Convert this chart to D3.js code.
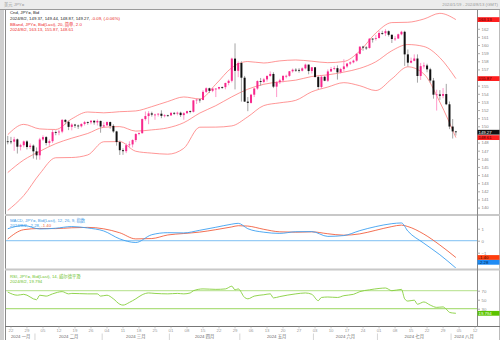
<!DOCTYPE html>
<html><head><meta charset="utf-8">
<script src="https://cdn.jsdelivr.net/npm/d3@7"></script>
<style>
html,body{margin:0;padding:0;background:#fff;}
svg{display:block;font-family:"Liberation Sans",Arial,"Noto Sans CJK SC",sans-serif;}
</style></head><body>
<svg id="c" width="500" height="340"></svg>
<script>
// USD/JPY daily candles, 2024-01-19 .. 2024-08-02 (one value per trading day)
const open = [148.15,148.14,148.11,148.39,147.49,147.67,148.14,147.45,147.62,146.92,
146.43,148.38,148.67,147.95,148.17,149.29,149.28,149.35,150.79,150.55,
149.93,150.21,150.09,150.00,150.29,150.51,150.49,150.69,150.48,150.66,
149.98,150.12,150.52,150.05,149.37,148.06,147.06,146.94,147.67,147.77,
148.31,149.05,149.15,150.89,151.26,151.59,151.44,151.45,151.55,151.29,
151.35,151.34,151.65,151.56,151.67,151.38,151.61,151.86,151.79,153.19,
153.29,153.24,154.24,154.68,154.37,154.64,154.64,154.83,154.82,155.33,
155.60,158.33,156.83,157.79,155.98,153.04,152.88,153.89,154.65,155.57,
155.46,155.77,156.20,156.44,154.88,155.43,155.65,156.20,156.21,156.77,
156.96,156.94,156.84,157.13,157.59,156.80,157.26,156.06,154.84,156.09,
155.61,156.75,157.05,157.15,156.64,157.04,157.37,157.72,157.87,158.08,
158.92,159.80,159.69,159.64,160.78,160.76,160.86,161.48,161.45,161.70,
161.26,160.74,160.80,161.32,161.63,158.85,157.83,158.06,158.34,156.19,
157.40,157.48,157.01,155.63,153.89,153.93,153.75,153.97,152.71,149.97,
149.37];
const high = [148.81,148.70,148.70,148.50,147.85,148.25,148.29,147.90,147.77,147.40,
148.58,148.89,148.80,148.39,149.56,149.48,149.58,150.89,150.88,150.69,
150.37,150.30,150.22,150.37,150.66,150.59,150.73,150.70,150.84,150.70,
150.50,150.60,150.58,150.25,149.45,148.25,147.30,147.90,148.15,148.40,
149.16,149.25,150.96,151.82,151.86,151.80,151.55,151.60,151.97,151.48,
151.42,151.77,151.76,151.80,151.80,151.75,151.92,151.95,153.24,153.32,
153.40,154.45,154.79,154.75,154.72,154.70,154.86,154.90,155.37,155.75,
158.44,160.20,157.99,157.99,156.20,153.60,154.00,154.75,155.65,155.95,
155.95,156.25,156.75,156.65,155.55,155.85,156.30,156.35,156.80,157.10,
157.15,157.15,157.25,157.71,157.60,157.30,157.30,156.20,156.30,156.20,
157.00,157.30,157.40,157.50,157.20,158.25,157.80,158.00,158.20,159.00,
159.85,159.90,159.85,160.85,160.85,161.25,161.74,161.75,161.95,161.80,
161.30,161.10,161.40,161.75,161.76,159.45,158.45,158.85,158.85,157.80,
157.85,157.70,157.20,155.95,154.50,154.45,154.70,155.22,153.05,150.90,
149.44];
const low = [147.78,147.80,146.98,146.65,147.03,147.40,147.15,147.20,146.03,145.90,
145.89,148.20,147.65,147.60,147.95,148.90,148.90,149.15,150.25,149.53,
149.50,149.80,149.68,149.85,150.10,150.20,150.25,150.20,150.10,149.21,
149.80,150.05,149.70,149.20,147.62,146.48,146.49,146.70,147.30,147.40,
148.05,148.90,149.10,150.70,150.26,151.20,150.80,151.20,151.00,151.10,
151.20,151.30,151.40,151.35,151.15,150.81,151.55,151.60,151.70,152.75,
152.90,153.20,154.10,154.10,154.20,153.60,154.50,154.60,154.55,155.05,
155.40,154.54,156.05,153.04,152.99,151.86,152.80,153.60,154.50,155.00,
155.30,155.50,156.10,154.70,153.60,155.20,155.40,155.90,156.10,156.60,
156.70,156.60,156.75,157.00,156.40,156.50,156.00,154.55,154.60,155.55,
155.45,156.70,156.90,155.75,156.50,156.75,157.20,157.55,157.75,157.95,
158.85,159.30,159.40,159.55,160.30,160.55,160.80,161.25,161.10,161.05,
160.25,160.50,160.75,161.20,157.44,157.35,157.75,158.00,155.37,155.70,
157.10,156.65,155.35,153.40,151.94,153.25,153.45,152.60,149.65,148.50,
148.87];
const close = [148.14,148.11,148.39,147.49,147.67,148.14,147.45,147.62,146.92,146.43,
148.38,148.67,147.95,148.17,149.29,149.28,149.35,150.79,150.55,149.93,
150.21,150.09,150.00,150.29,150.51,150.49,150.69,150.48,150.66,149.98,
150.12,150.52,150.05,149.37,148.06,147.06,146.94,147.67,147.77,148.31,
149.05,149.15,150.89,151.26,151.59,151.44,151.45,151.55,151.29,151.35,
151.34,151.65,151.56,151.67,151.38,151.61,151.86,151.79,153.19,153.29,
153.24,154.24,154.68,154.37,154.64,154.64,154.83,154.82,155.33,155.60,
158.33,156.83,157.79,155.98,153.04,152.88,153.89,154.65,155.57,155.46,
155.77,156.20,156.44,154.88,155.43,155.65,156.20,156.21,156.77,156.96,
156.94,156.84,157.13,157.59,156.80,157.26,156.06,154.84,156.09,155.61,
156.75,157.05,157.15,156.64,157.04,157.37,157.72,157.87,158.08,158.92,
159.80,159.69,159.64,160.78,160.76,160.86,161.48,161.45,161.70,161.26,
160.74,160.80,161.32,161.63,158.85,157.83,158.06,158.34,156.19,157.40,
157.48,157.01,155.63,153.89,153.93,153.75,153.97,152.71,149.97,149.37,
149.27];

// Bollinger band (20, 2.0) readings, by trading-day number
const bbAt    = [0,5,10,15,20,25,30,35,40,45,50,55,60,65,70,75,80,85,90,95,100,105,110,115,120,125,130,135,140];
const bbUpper = [148.97,150.24,149.68,149.61,150.92,151.76,151.66,151.80,151.89,152.42,153.05,153.61,153.37,155.18,157.21,157.97,157.79,158.05,158.16,158.01,157.83,157.97,159.27,161.48,162.76,162.80,163.20,163.90,163.13];
const bbMid   = [144.31,145.86,146.92,147.87,148.54,149.12,149.88,149.96,149.41,149.56,149.81,150.45,151.63,152.54,153.63,154.57,155.17,155.47,155.68,156.13,156.33,156.67,157.13,157.94,159.30,160.06,159.82,158.44,155.87];
const bbLower = [139.65,141.48,144.16,146.13,146.16,146.48,148.10,148.12,146.93,146.70,146.57,147.29,149.89,149.90,150.05,151.17,152.55,152.89,153.20,154.25,154.83,155.37,154.99,154.40,155.84,157.32,156.44,152.98,148.61];

// MACD (12, 26, 9) readings
const macdAt     = [0,5,10,15,20,25,30,35,40,45,50,55,60,65,70,72,75,80,85,90,95,100,105,110,115,120,123,125,130,135,140];
const macdLine   = [1.00,1.27,0.98,1.04,1.18,1.06,0.81,0.15,-0.15,0.50,0.67,0.65,0.87,1.12,1.38,1.45,1.00,0.71,0.61,0.75,0.76,0.36,0.43,0.84,1.18,1.42,1.48,0.80,-0.21,-1.17,-2.28];
const macdSignal = [0.15,0.92,1.02,1.01,1.08,1.11,0.99,0.66,0.15,0.18,0.48,0.60,0.72,0.92,1.15,1.25,1.22,0.95,0.74,0.71,0.74,0.58,0.46,0.57,0.87,1.18,1.30,1.18,0.55,-0.36,-1.40];

// RSI (14, Wilder) readings
const rsiAt  = [0,3,5,9,10,12,14,17,19,20,25,28,29,31,33,35,36,38,40,42,44,46,50,53,55,57,58,61,65,68,70,71,72,74,75,77,80,82,83,85,90,93,95,97,98,100,103,105,108,110,113,116,118,120,123,124,125,127,128,130,132,134,136,137,138,139,140];
const rsiVal = [67,60,62,50,60,58,63,68,63,64,63,63,58,60,52,40,38,44,52,61,65,64,63,64,63,65,70,74,73,74,80,72,74,55,52,58,61,63,54,57,63,65,62,48,55,56,55,59,62,68,72,75,76,70,73,52,47,49,40,45,38,33,34,29,22,20.5,19.794];

const priceTicks = d3.range(140, 164, 1);
const macdTicks = [1, 0, -1];
const rsiTicks = [70, 50, 30];
const monthNames = ["一月","二月","三月","四月","五月","六月","七月","八月"];

// ---- layout ----
const W = 500, H = 340, L = 6, R = 477;
const PM = [10, 214], PD = [216, 268], PR = [271, 326];

const days = d3.timeDay.range(new Date(2024,0,19), new Date(2024,7,14))
  .filter(d => d.getDay() !== 0 && d.getDay() !== 6);
const idxOf = d => days.findIndex(e => +e === +d);

const x = d3.scaleLinear().domain([-0.55, 146.6]).range([L, R]);
const yP = d3.scaleLinear().domain([139.21, 164.31]).range([PM[1], PM[0]]);
const yD = d3.scaleLinear().domain([-2.275, 2.06]).range([PD[1], PD[0]]);
const yR = d3.scaleLinear().domain([-8.4, 113.8]).range([PR[1], PR[0]]);

const svg = d3.select("#c");
const FS = 4.3;

svg.append("rect").attr("width", W).attr("height", H).attr("fill", "#fff");
// top bar
svg.append("rect").attr("width", W).attr("height", 9).attr("fill", "#ececec");
svg.append("line").attr("x1", 0).attr("x2", W).attr("y1", 9.5).attr("y2", 9.5).attr("stroke", "#9a9a9a");
svg.append("text").attr("x", 4).attr("y", 6.3).attr("font-size", FS).attr("fill", "#9a9a9a").text("美元 JPY=");
svg.append("text").attr("x", 498).attr("y", 6.3).attr("font-size", FS).attr("fill", "#9a9a9a")
  .attr("text-anchor", "end").text("2024/1/19 - 2024/8/13 (GMT)");
// left strip and frame
svg.append("rect").attr("x", 0).attr("y", 10).attr("width", 4).attr("height", 330).attr("fill", "#d0d0d0");
svg.append("line").attr("x1", 5.5).attr("x2", 5.5).attr("y1", 10).attr("y2", 340).attr("stroke", "#8a8a8a");
svg.append("line").attr("x1", 499.5).attr("x2", 499.5).attr("y1", 10).attr("y2", 340).attr("stroke", "#bbb");
// panel separators
[[214, 216], [268.5, 270.5]].forEach(([a, b]) =>
  svg.append("rect").attr("x", 5).attr("y", a).attr("width", 495).attr("height", b - a).attr("fill", "#c8c8c8"));
svg.append("line").attr("x1", 5).attr("x2", 500).attr("y1", 326.5).attr("y2", 326.5).attr("stroke", "#777");
svg.append("line").attr("x1", R + 0.5).attr("x2", R + 0.5).attr("y1", 10).attr("y2", 327).attr("stroke", "#888");

// clip regions per panel
const defs = svg.append("defs");
[["cm", PM], ["cd", PD], ["cr", PR]].forEach(([id, p]) =>
  defs.append("clipPath").attr("id", id).append("rect")
    .attr("x", L).attr("y", p[0]).attr("width", R - L).attr("height", p[1] - p[0]));

// ---- main panel: Bollinger bands + candles ----
const gM = svg.append("g").attr("clip-path", "url(#cm)");
const curve = d3.curveMonotoneX;
[bbUpper, bbMid, bbLower].forEach(arr => {
  gM.append("path")
    .attr("d", d3.line().curve(curve).x((v, i) => x(bbAt[i])).y(v => yP(v))(arr))
    .attr("fill", "none").attr("stroke", "#ff8a8a").attr("stroke-width", 0.9);
});
const UP = "#f7288c", DN = "#111";
close.forEach((c, i) => {
  const o = open[i], up = c >= o, cx = x(i);
  gM.append("line").attr("x1", cx).attr("x2", cx).attr("y1", yP(high[i])).attr("y2", yP(low[i]))
    .attr("stroke", up ? "#ff8cc4" : "#9a9a9a").attr("stroke-width", 0.9);
  const y0 = yP(Math.max(o, c)), y1 = yP(Math.min(o, c));
  gM.append("rect").attr("x", cx - 1).attr("width", 2).attr("y", y0).attr("height", Math.max(0.8, y1 - y0))
    .attr("fill", up ? UP : DN);
});

// ---- MACD panel ----
const gD = svg.append("g").attr("clip-path", "url(#cd)");
gD.append("line").attr("x1", L).attr("x2", R).attr("y1", yD(0)).attr("y2", yD(0)).attr("stroke", "#6fb8f0").attr("stroke-width", 0.9);
gD.append("path").attr("d", d3.line().curve(curve).x((v, i) => x(macdAt[i])).y(v => yD(v))(macdSignal))
  .attr("fill", "none").attr("stroke", "#f2603f").attr("stroke-width", 0.9);
gD.append("path").attr("d", d3.line().curve(curve).x((v, i) => x(macdAt[i])).y(v => yD(v))(macdLine))
  .attr("fill", "none").attr("stroke", "#3ea0f0").attr("stroke-width", 0.9);

// ---- RSI panel ----
const gR = svg.append("g").attr("clip-path", "url(#cr)");
gR.append("line").attr("x1", L).attr("x2", R).attr("y1", yR(70)).attr("y2", yR(70)).attr("stroke", "#c2e6a0").attr("stroke-width", 1.2);
gR.append("line").attr("x1", L).attr("x2", R).attr("y1", yR(30)).attr("y2", yR(30)).attr("stroke", "#8fd24e").attr("stroke-width", 0.9);
gR.append("path").attr("d", d3.line().curve(curve).x((v, i) => x(rsiAt[i])).y(v => yR(v))(rsiVal))
  .attr("fill", "none").attr("stroke", "#86cf3c").attr("stroke-width", 0.9);

// ---- legends ----
function legend(y, parts) {
  const t = svg.append("text").attr("x", 10).attr("y", y).attr("font-size", FS);
  parts.forEach(([s, col]) => t.append("tspan").attr("fill", col).text(s));
}
const last = close.length - 1;
legend(14.3, [["Cnd, JPY=, Bid", "#222"]]);
legend(20, [[`2024/8/2, ${open[last].toFixed(2)}, ${high[last].toFixed(2)}, ${low[last].toFixed(2)}, ${close[last].toFixed(2)}, `, "#222"], ["-0.09, (-0.06%)", "#e8231e"]]);
legend(25.7, [["BBand, JPY=, Bid(Last), 20, 简单, 2.0", "#ee2a2a"]]);
legend(31.4, [[`2024/8/2, ${bbUpper.at(-1).toFixed(2)}, ${bbMid.at(-1).toFixed(2)}, ${bbLower.at(-1).toFixed(2)}`, "#ee2a2a"]]);
legend(221.6, [["MACD, JPY=, Bid(Last), 12, 26, 9, 指数", "#3a9ae8"]]);
legend(227, [["2024/8/2, ", "#3a9ae8"], [macdLine.at(-1).toFixed(2), "#3a9ae8"], [", ", "#3a9ae8"], [macdSignal.at(-1).toFixed(2), "#f2603f"]]);
legend(277.5, [["RSI, JPY=, Bid(Last), 14, 威尔德平滑", "#6cbf2a"]]);
legend(283, [[`2024/8/2, ${rsiVal.at(-1)}`, "#6cbf2a"]]);

// ---- value tags on the right axis ----
const tags = [
  [yP(bbUpper.at(-1)), bbUpper.at(-1).toFixed(2), "#ff1f1f", "#4a0000"],
  [yP(bbMid.at(-1)), bbMid.at(-1).toFixed(2), "#ff1f1f", "#4a0000"],
  [yP(close[last]), close[last].toFixed(2), "#111", "#fff"],
  [yP(bbLower.at(-1)), bbLower.at(-1).toFixed(2), "#ff1f1f", "#4a0000"],
  [yD(macdSignal.at(-1)), macdSignal.at(-1).toFixed(2), "#ff3d0d", "#3a0a00"],
  [Math.min(yD(macdLine.at(-1)), yD(macdSignal.at(-1)) + 4.8), macdLine.at(-1).toFixed(2), "#1f8cf5", "#00264d"],
  [yR(rsiVal.at(-1)), String(rsiVal.at(-1)), "#5cc400", "#f0ffe8"]
];
const freeOf = y => tags.every(t => Math.abs(t[0] - y) > 4.2);

// ---- right axes (labels hidden where a value tag sits) ----
function rightAxis(scale, ticks) {
  const g = svg.append("g").attr("transform", `translate(${R},0)`)
    .call(d3.axisRight(scale).tickValues(ticks.filter(v => freeOf(scale(v)))).tickSize(3).tickPadding(1.5).tickFormat(d3.format("d")));
  g.select(".domain").remove();
  g.selectAll("line").attr("stroke", "#999").attr("stroke-width", 0.8);
  g.selectAll("text").attr("font-size", FS).attr("fill", "#888").attr("font-family", null);
}
rightAxis(yP, priceTicks);
rightAxis(yD, macdTicks);
rightAxis(yR, rsiTicks);

tags.forEach(([y, txt, bg, fg]) => {
  svg.append("rect").attr("x", R + 0.5).attr("y", y - 2.4).attr("width", 22).attr("height", 4.8).attr("fill", bg);
  svg.append("text").attr("x", R + 1.5).attr("y", y + 1.5).attr("font-size", FS).attr("fill", fg).text(txt);
});

// ---- bottom time axis ----
const mondays = d3.timeMonday.range(new Date(2024,0,22), new Date(2024,7,13));
const gX = svg.append("g");
mondays.forEach(d => {
  const i = idxOf(d), px = x(i);
  gX.append("line").attr("x1", px).attr("x2", px).attr("y1", 326.5).attr("y2", 328.5).attr("stroke", "#aaa").attr("stroke-width", 0.6);
  gX.append("text").attr("x", px).attr("y", 332.3).attr("text-anchor", "middle").attr("font-size", FS).attr("fill", "#999")
    .text(d3.timeFormat("%d")(d));
});
const starts = monthNames.map((m, k) => days.findIndex(d => d.getMonth() === k));
starts.forEach((s, k) => {
  const a = Math.max(L, x(s) - 1.6);
  const b = k + 1 < starts.length ? x(starts[k + 1]) - 1.6 : R;
  if (k > 0) gX.append("line").attr("x1", a).attr("x2", a).attr("y1", 333.5).attr("y2", 340).attr("stroke", "#c4c4c4").attr("stroke-width", 0.7);
  gX.append("text").attr("x", (a + b) / 2).attr("y", 338.3).attr("text-anchor", "middle").attr("font-size", FS).attr("fill", "#666")
    .text("2024 " + monthNames[k]);
});
</script>
</body></html>
